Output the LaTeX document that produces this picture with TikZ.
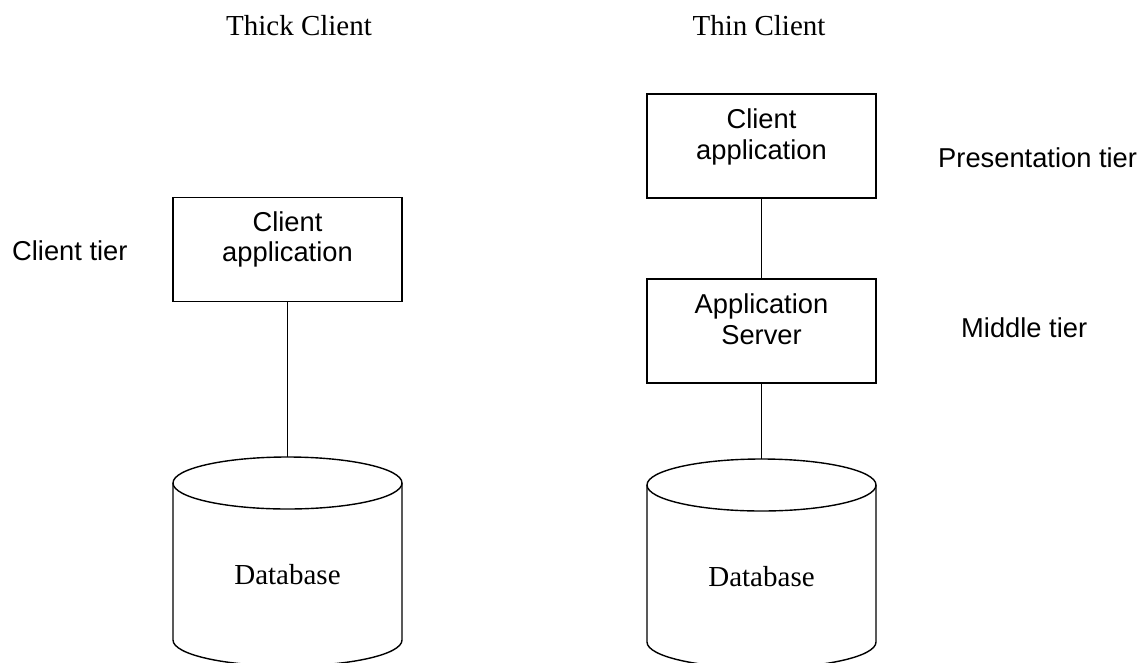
\documentclass[tikz,border=0pt]{standalone}
\usepackage{fontspec}
\setmainfont{Liberation Serif}
\newfontfamily\arialfont{Liberation Sans}
\usetikzlibrary{calc}

\tikzset{
  line/.style={draw=black, line width=1.4pt},
  tierbox/.style={line, rectangle, minimum width=229pt, minimum height=104pt, inner sep=0pt},
  sanslabel/.style={font=\arialfont\fontsize{27.3}{30}\selectfont, inner sep=0pt},
  seriflabel/.style={font=\fontsize{29}{32}\selectfont, inner sep=0pt},
}

\begin{document}
\begin{tikzpicture}[x=1pt, y=-1pt]
  \useasboundingbox (0,0) rectangle (1146,662);

  % column headings
  \node[seriflabel, anchor=base] (thick) at (299,35) {Thick Client};
  \node[seriflabel, anchor=base] (thin) at (759,35) {Thin Client};

  % tier labels
  \node[sanslabel, anchor=base west] (clienttier) at (12,260) {Client tier};
  \node[sanslabel, anchor=base west] (prestier) at (938,167) {Presentation tier};
  \node[sanslabel, anchor=base west] (midtier) at (961,337) {Middle tier};

  % thick client: application box
  \node[tierbox] (capp1) at (287.5,249.5) {};
  \node[sanslabel, anchor=base] (capp1a) at ($(capp1.north)+(0,35)$) {Client};
  \node[sanslabel, anchor=base] (capp1b) at ($(capp1.north)+(0,65)$) {application};

  % thin client: application box and application server
  \node[tierbox] (capp2) at (761.5,146) {};
  \node[sanslabel, anchor=base] (capp2a) at ($(capp2.north)+(0,35)$) {Client};
  \node[sanslabel, anchor=base] (capp2b) at ($(capp2.north)+(0,66)$) {application};

  \node[tierbox] (appsrv) at (761.5,331) {};
  \node[sanslabel, anchor=base] (appsrva) at ($(appsrv.north)+(0,35)$) {Application};
  \node[sanslabel, anchor=base] (appsrvb) at ($(appsrv.north)+(0,66)$) {Server};

  % databases (cylinders)
  \foreach \name/\cx/\cy in {db1/287.5/483, db2/761.5/485} {
    \draw[line] (\cx,\cy) ellipse [x radius=114.5, y radius=26];
    \draw[line] (\cx-114.5,\cy) -- (\cx-114.5,\cy+157)
      arc [start angle=180, end angle=0, x radius=114.5, y radius=26]
      -- (\cx+114.5,\cy);
    \coordinate (\name top) at (\cx,\cy-26);
    \node[seriflabel, anchor=base] (\name label) at (\cx,\cy+101) {Database};
  }

  % connectors
  \draw[line] (capp1.south) -- (db1top);
  \draw[line] (capp2.south) -- (appsrv.north);
  \draw[line] (appsrv.south) -- (db2top);
\end{tikzpicture}
\end{document}
